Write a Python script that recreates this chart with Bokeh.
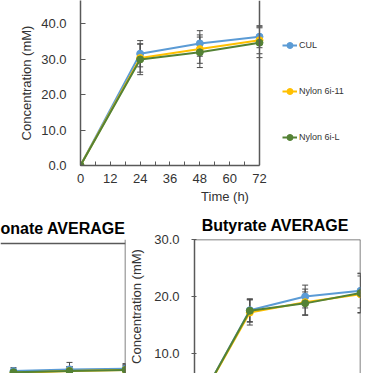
from bokeh.plotting import figure
from bokeh.models import (ColumnDataSource, Range1d, FixedTicker, NumeralTickFormatter,
                          Span, Whisker, TeeHead, Legend, LegendItem)
from bokeh.layouts import column, row
from bokeh.embed import file_html
from bokeh.resources import INLINE

FONT = "Liberation Sans"
TXT = "#333333"
AX = "#595959"

# ---- data ----
times = [0, 24, 48, 72]
series_names = ["CUL", "Nylon 6i-11", "Nylon 6i-L"]
colors = ["#5B9BD5", "#FFC000", "#548235"]

x_ticks = [0, 12, 24, 36, 48, 60, 72]
x_minor = [6, 18, 30, 42, 54, 66]
top_y_ticks = [0, 10, 20, 30, 40]
but_y_ticks = [10, 20, 30]

# top panel (title cropped)
top_cul = [0, 31.5, 34.4, 36.3]
top_n11 = [0, 30.3, 32.8, 35.3]
top_nL = [0, 29.9, 31.9, 34.6]
top_err_cul = [0, 3.7, 3.6, 3.1]
top_err_n11 = [0, 4.0, 4.0, 3.8]
top_err_nL = [0, 4.3, 4.3, 4.2]

# Propionate AVERAGE
pro_cul = [0, 8.0, 8.3, 8.4]
pro_n11 = [0, 7.7, 8.0, 8.2]
pro_nL = [0, 7.8, 8.0, 8.2]
pro_err_cul = [0, 0.6, 1.2, 0.9]
pro_err_n11 = [0, 0.5, 0.8, 0.8]
pro_err_nL = [0, 0.5, 0.8, 0.9]
pro_y_max = 30

# Butyrate AVERAGE
but_cul = [0, 17.6, 20.0, 21.0]
but_n11 = [0, 17.2, 19.0, 20.4]
but_nL = [0, 17.5, 18.8, 20.6]
but_err_cul = [0, 2.0, 2.0, 3.0]
but_err_n11 = [0, 2.2, 2.3, 3.2]
but_err_nL = [0, 2.0, 2.0, 3.5]
but_y_max = 30


def base_fig(**kw):
    p = figure(output_backend="svg", toolbar_location=None, **kw)
    p.grid.visible = False
    p.outline_line_color = None
    p.background_fill_color = "white"
    p.border_fill_color = "white"
    return p


def add_series(p, means, errs, size=7):
    rends = []
    for name, m, e, c in zip(series_names, means, errs, colors):
        src = ColumnDataSource(dict(x=times, y=m,
                                    lo=[a - b for a, b in zip(m, e)],
                                    hi=[a + b for a, b in zip(m, e)]))
        w = Whisker(source=src, base="x", upper="hi", lower="lo",
                    line_color="#4a4a4a", line_width=1, level="underlay",
                    upper_head=TeeHead(size=6, line_color="#4a4a4a", line_width=1),
                    lower_head=TeeHead(size=6, line_color="#4a4a4a", line_width=1))
        p.add_layout(w)
        ln = p.line("x", "y", source=src, line_color=c, line_width=2)
        sc = p.scatter("x", "y", source=src, size=size, fill_color=c, line_color=c)
        rends.append((name, ln, sc))
    return rends


def style_y(ax, standoff, label_standoff):
    ax.axis_line_color = AX
    ax.axis_line_width = 1.5
    ax.major_tick_line_color = AX
    ax.minor_tick_line_color = None
    ax.major_label_text_font = FONT
    ax.major_label_text_font_size = "13px"
    ax.major_label_text_color = TXT
    ax.major_label_standoff = standoff
    ax.axis_label = "Concentration (mM)"
    ax.axis_label_text_font = FONT
    ax.axis_label_text_font_size = "13px"
    ax.axis_label_text_font_style = "normal"
    ax.axis_label_text_color = TXT
    ax.axis_label_standoff = label_standoff
    ax.formatter = NumeralTickFormatter(format="0.0")


def style_title(t, align, standoff):
    t.align = align
    t.text_font = FONT
    t.text_font_size = "16px"
    t.text_font_style = "bold"
    t.text_color = "black"
    t.standoff = standoff


# ---- top panel ----
p1 = base_fig(width=369, height=207, x_range=Range1d(0, 116.25), y_range=Range1d(0, 46.5),
              min_border_left=80, min_border_right=0, min_border_top=0, min_border_bottom=42)
r1 = add_series(p1, [top_cul, top_n11, top_nL], [top_err_cul, top_err_n11, top_err_nL])
ya = p1.yaxis[0]
style_y(ya, 14, 4)
ya.ticker = FixedTicker(ticks=top_y_ticks)
ya.major_tick_in = 5
ya.major_tick_out = 0
xa = p1.xaxis[0]
xa.ticker = FixedTicker(ticks=x_ticks, minor_ticks=x_minor)
xa.bounds = (x_ticks[0], x_ticks[-1])
xa.axis_line_color = AX
xa.axis_line_width = 1.5
xa.major_tick_line_color = AX
xa.minor_tick_line_color = AX
xa.major_tick_in = 4
xa.major_tick_out = 0
xa.minor_tick_in = 4
xa.minor_tick_out = 0
xa.major_label_text_font = FONT
xa.major_label_text_font_size = "13px"
xa.major_label_text_color = TXT
xa.major_label_standoff = 8
xa.axis_label = "Time (h)"
xa.axis_label_text_font = FONT
xa.axis_label_text_font_size = "13px"
xa.axis_label_text_font_style = "normal"
xa.axis_label_text_color = TXT
xa.axis_label_standoff = 3
p1.add_layout(Span(location=x_ticks[-1], dimension="height", line_color=AX, line_width=1.5))

legend = Legend(items=[LegendItem(label=n, renderers=[l, s]) for n, l, s in r1],
                location=(202, 20), orientation="vertical",
                margin=0, padding=0, spacing=30,
                label_height=16, glyph_height=16, glyph_width=15, label_standoff=2,
                label_text_font=FONT, label_text_font_size="9px", label_text_color=TXT,
                border_line_color=None, background_fill_alpha=0)
p1.add_layout(legend, "center")

# ---- Propionate panel (left part cropped) ----
p2 = base_fig(width=126, height=166, x_range=Range1d(18.43, 72), y_range=Range1d(7.59, 30.69),
              min_border_left=0, min_border_right=1, min_border_top=32, min_border_bottom=0,
              x_axis_location=None, y_axis_location=None, title="Propionate AVERAGE")
add_series(p2, [pro_cul, pro_n11, pro_nL], [pro_err_cul, pro_err_n11, pro_err_nL])
p2.add_layout(Span(location=x_ticks[-1], dimension="height", line_color=AX, line_width=1.5))
p2.add_layout(Span(location=pro_y_max, dimension="width", line_color=AX, line_width=1.5))
style_title(p2.title, "right", 6)

# ---- Butyrate panel ----
p3 = base_fig(width=243, height=166, x_range=Range1d(0, 72), y_range=Range1d(6.5, 30),
              min_border_left=61, min_border_right=9, min_border_top=32, min_border_bottom=0,
              x_axis_location=None, title="Butyrate  AVERAGE")
add_series(p3, [but_cul, but_n11, but_nL], [but_err_cul, but_err_n11, but_err_nL])
yb = p3.yaxis[0]
style_y(yb, 12, 7)
yb.ticker = FixedTicker(ticks=but_y_ticks)
yb.major_tick_in = 2
yb.major_tick_out = 3
p3.add_layout(Span(location=x_ticks[-1], dimension="height", line_color=AX, line_width=1.5))
p3.add_layout(Span(location=but_y_max, dimension="width", line_color=AX, line_width=1.5))
style_title(p3.title, "center", 11)

layout = column(p1, row(p2, p3, spacing=0), spacing=0)
open("out.html", "w").write(file_html(layout, INLINE))
